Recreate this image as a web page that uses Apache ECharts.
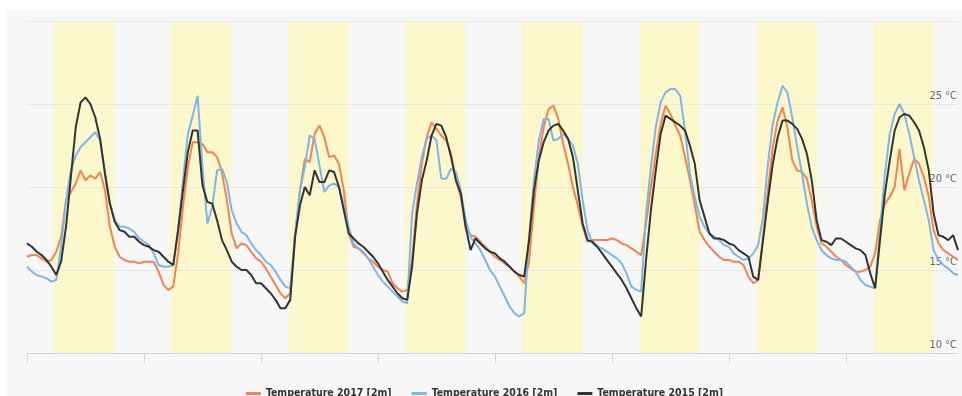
<!DOCTYPE html>
<html>
<head>
<meta charset="utf-8">
<script src="https://cdn.jsdelivr.net/npm/echarts@6/dist/echarts.min.js"></script>
<style>
  html, body { margin: 0; padding: 0; background: #ffffff; }
  #panel { position: absolute; left: 7px; top: 10px; width: 955px; height: 386px; background: #f7f7f7; }
  #chart { width: 955px; height: 386px; }
</style>
</head>
<body>
<div id="panel"><div id="chart"></div></div>
<script>
// Hourly 2 m air temperature (°C) over the same eight days in three different years
const t2017 = [
  15.8, 15.9, 15.9, 15.7, 15.5, 15.6, 16.1, 17.0, 19.2, 19.7, 20.2, 21.0, 20.4, 20.7, 20.5, 20.9, 19.8, 17.6, 16.4, 15.8, 15.6, 15.5, 15.5, 15.4,
  15.5, 15.5, 15.5, 14.9, 14.1, 13.8, 14.0, 16.0, 18.8, 21.2, 22.7, 22.7, 22.6, 22.1, 22.1, 21.8, 20.9, 19.2, 17.2, 16.3, 16.6, 16.5, 16.1, 15.7,
  15.5, 15.1, 14.6, 14.1, 13.6, 13.3, 13.6, 17.0, 19.8, 21.7, 21.5, 23.2, 23.7, 23.0, 21.8, 21.9, 21.4, 19.8, 17.2, 16.4, 16.3, 16.0, 15.7, 15.5,
  15.2, 15.0, 14.9, 14.2, 13.9, 13.7, 13.8, 15.6, 19.0, 21.4, 23.0, 23.9, 23.5, 23.1, 22.8, 22.0, 20.4, 19.4, 17.5, 17.1, 17.0, 16.7, 16.4, 16.1,
  15.8, 15.6, 15.4, 15.2, 14.9, 14.6, 14.2, 15.5, 18.8, 21.8, 23.6, 24.7, 24.9, 24.1, 22.6, 21.4, 20.0, 18.9, 17.6, 16.7, 16.8, 16.8, 16.8, 16.8,
  16.9, 16.8, 16.6, 16.5, 16.3, 16.1, 15.9, 17.8, 20.0, 22.0, 23.8, 24.9, 24.4, 23.7, 23.1, 21.8, 20.4, 18.9, 17.3, 16.8, 16.4, 16.1, 15.8, 15.6,
  15.6, 15.5, 15.5, 15.3, 14.6, 14.2, 14.4, 17.0, 19.8, 22.4, 24.0, 24.8, 23.6, 21.6, 21.0, 20.9, 20.5, 19.2, 17.6, 16.6, 16.4, 16.1, 15.8, 15.6,
  15.3, 15.1, 14.9, 14.9, 15.0, 15.2, 16.0, 18.0, 19.0, 19.4, 20.0, 22.3, 19.8, 20.8, 21.7, 21.4, 20.6, 19.4, 17.4, 16.6, 16.2, 16.0, 15.8, 15.6
];
const t2016 = [
  15.2, 14.9, 14.7, 14.6, 14.5, 14.3, 14.4, 16.4, 19.2, 21.0, 21.9, 22.4, 22.7, 23.0, 23.3, 22.8, 20.8, 19.0, 18.0, 17.6, 17.6, 17.5, 17.3, 16.9,
  16.7, 16.5, 16.0, 15.3, 15.2, 15.2, 15.3, 17.4, 20.4, 23.2, 24.3, 25.5, 21.2, 17.8, 18.8, 21.0, 21.1, 20.3, 18.6, 17.8, 17.3, 17.1, 16.6, 16.2,
  15.9, 15.5, 15.3, 14.9, 14.4, 14.0, 13.9, 17.2, 19.8, 21.2, 23.1, 22.9, 21.3, 19.7, 20.1, 20.2, 20.0, 18.9, 17.6, 16.6, 16.3, 16.1, 15.7, 15.2,
  14.7, 14.3, 14.0, 13.7, 13.4, 13.1, 13.0, 18.4, 20.2, 21.8, 22.9, 23.1, 22.8, 20.5, 20.5, 21.1, 20.9, 19.8, 18.0, 17.0, 16.6, 16.2, 15.6, 15.0,
  14.6, 14.0, 13.4, 12.8, 12.4, 12.2, 12.4, 17.0, 20.4, 22.8, 24.1, 24.1, 22.8, 22.9, 23.2, 22.9, 22.5, 21.4, 19.2, 17.4, 16.6, 16.4, 16.3, 16.1,
  15.9, 15.7, 15.4, 14.8, 14.0, 13.8, 13.7, 18.4, 21.2, 23.6, 25.1, 25.7, 25.9, 25.9, 25.5, 23.4, 20.8, 19.4, 18.2, 17.6, 17.2, 17.0, 16.8, 16.5,
  16.4, 16.0, 15.8, 15.6, 15.7, 16.0, 16.5, 18.2, 21.4, 23.8, 25.1, 26.1, 25.7, 24.2, 22.4, 20.8, 19.0, 17.6, 16.8, 16.2, 15.9, 15.7, 15.6, 15.6,
  15.5, 15.2, 14.9, 14.4, 14.1, 14.0, 13.9, 17.4, 20.8, 23.2, 24.4, 25.0, 24.4, 23.2, 21.8, 20.4, 19.2, 18.0, 16.2, 15.6, 15.3, 15.1, 14.8, 14.7
];
const t2015 = [
  16.6, 16.4, 16.1, 15.9, 15.6, 15.2, 14.7, 15.5, 17.6, 20.6, 23.6, 25.1, 25.4, 25.0, 24.2, 22.9, 20.8, 19.0, 17.9, 17.4, 17.3, 17.0, 17.0, 16.7,
  16.5, 16.4, 16.2, 16.1, 15.8, 15.5, 15.3, 17.4, 19.8, 22.1, 23.4, 23.4, 20.1, 19.1, 19.0, 18.0, 16.8, 16.2, 15.5, 15.2, 15.0, 15.0, 14.7, 14.2,
  14.2, 13.9, 13.6, 13.2, 12.7, 12.7, 13.2, 17.0, 18.9, 20.0, 19.5, 21.0, 20.3, 20.3, 21.0, 20.9, 20.0, 18.6, 17.2, 16.9, 16.6, 16.4, 16.1, 15.8,
  15.4, 14.9, 14.4, 14.0, 13.6, 13.3, 13.2, 15.2, 18.4, 20.4, 21.6, 23.1, 23.8, 23.7, 23.0, 21.8, 20.4, 19.6, 17.6, 16.2, 16.9, 16.6, 16.3, 16.1,
  16.0, 15.7, 15.5, 15.2, 14.9, 14.7, 14.6, 16.8, 19.8, 21.6, 22.7, 23.4, 23.7, 23.8, 23.4, 22.9, 21.8, 19.8, 17.8, 16.8, 16.7, 16.4, 16.0, 15.6,
  15.2, 14.8, 14.4, 13.9, 13.3, 12.7, 12.2, 15.6, 18.6, 21.0, 23.2, 24.3, 24.1, 23.9, 23.7, 23.4, 22.5, 21.4, 19.2, 18.2, 17.2, 16.9, 16.9, 16.8,
  16.6, 16.5, 16.2, 16.0, 15.8, 14.6, 14.4, 16.8, 19.2, 21.4, 23.0, 24.0, 24.0, 23.8, 23.5, 22.9, 22.0, 20.4, 18.0, 16.8, 16.7, 16.5, 16.9, 16.9,
  16.7, 16.5, 16.3, 16.2, 15.9, 14.8, 13.9, 16.8, 19.6, 21.6, 23.4, 24.2, 24.4, 24.3, 23.9, 23.4, 22.4, 21.0, 18.4, 17.1, 17.0, 16.8, 17.1, 16.2
];

// Midnight of each day (hours from start) and daylight period in local hours
const dayStarts = [0, 24, 48, 72, 96, 120, 144, 168];
const sunrise = [5.4, 5.5, 5.7, 5.6, 5.5, 5.7, 5.7, 5.7];
const sunset = [17.9, 17.9, 18.0, 17.9, 18.0, 18.0, 18.0, 17.9];

const seriesNames = ['Temperature 2017 [2m]', 'Temperature 2016 [2m]', 'Temperature 2015 [2m]'];
const seriesColors = ['#f7814f', '#7cb5ec', '#333333'];
const seriesValues = [t2017, t2016, t2015];
const yTicks = [10, 15, 20, 25, 30];

const FONT = '"DejaVu Sans Condensed", "Liberation Sans", sans-serif';

const toPairs = arr => arr.map((v, i) => [i, v]);

const daylightAreas = dayStarts.map((d, i) => [
  { xAxis: d + sunrise[i] },
  { xAxis: d + sunset[i] }
]);

const lineSeries = seriesNames.map((name, i) => ({
  name: name,
  type: 'line',
  data: toPairs(seriesValues[i]),
  showSymbol: false,
  symbol: 'none',
  z: 3,
  lineStyle: { width: 2, color: seriesColors[i] },
  itemStyle: { color: seriesColors[i] },
  animation: false
}));

const chart = echarts.init(document.getElementById('chart'), null, { renderer: 'canvas' });
chart.setOption({
  animation: false,
  backgroundColor: 'transparent',
  grid: { left: 20, right: 4, top: 11, bottom: 43 },
  legend: {
    data: seriesNames,
    top: 373,
    left: 'center',
    icon: 'rect',
    itemWidth: 15,
    itemHeight: 3,
    itemGap: 20,
    textStyle: { color: '#333333', fontSize: 10.5, fontWeight: 'bold', fontFamily: FONT }
  },
  xAxis: {
    type: 'value',
    min: 0,
    max: t2017.length - 1,
    interval: 24,
    axisLine: { show: true, lineStyle: { color: '#ccd6eb', width: 1 } },
    axisTick: { show: true, length: 10, lineStyle: { color: '#ccd6eb', width: 1 }, customValues: dayStarts },
    axisLabel: { show: false },
    splitLine: { show: false }
  },
  yAxis: {
    type: 'value',
    position: 'right',
    min: yTicks[0],
    max: yTicks[yTicks.length - 1],
    interval: 5,
    axisLine: { show: false },
    axisTick: { show: false },
    splitLine: { show: true, lineStyle: { color: '#e6e6e6', width: 1 } },
    axisLabel: {
      inside: true,
      margin: 1,
      showMaxLabel: false,
      verticalAlign: 'bottom',
      padding: [0, 0, 2, 0],
      color: '#666666',
      fontSize: 11,
      fontFamily: FONT,
      formatter: v => v + ' °C'
    }
  },
  series: [
    {
      name: 'daylight',
      type: 'line',
      data: [],
      z: -1,
      silent: true,
      markArea: {
        silent: true,
        z: -1,
        itemStyle: { color: '#fdf8cc' },
        data: daylightAreas
      }
    }
  ].concat(lineSeries)
});
</script>
</body>
</html>
